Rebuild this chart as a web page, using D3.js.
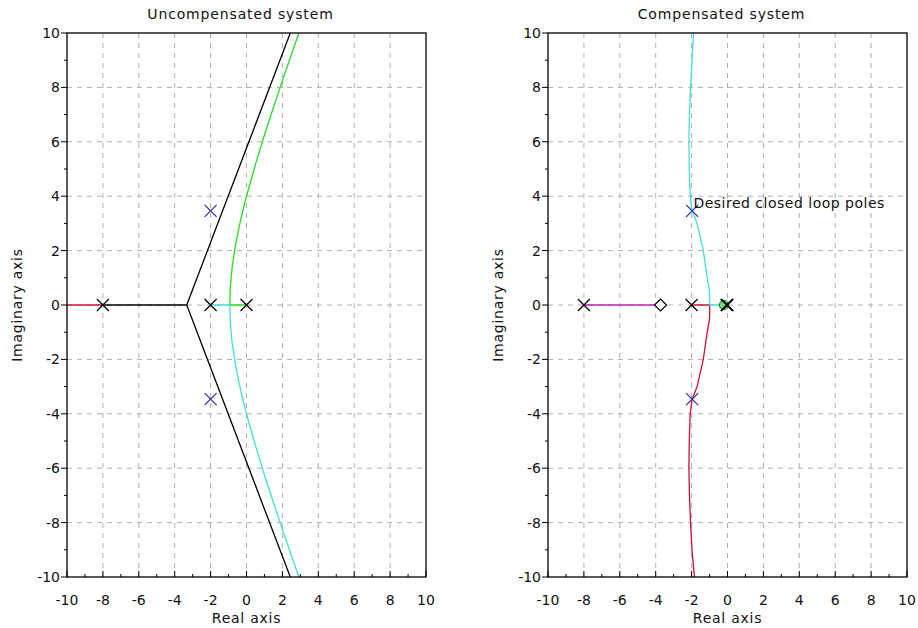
<!DOCTYPE html>
<html><head><meta charset="utf-8">
<script src="https://cdn.jsdelivr.net/npm/d3@7"></script>
<style>body{margin:0;background:#fff;} text{font-family:"DejaVu Sans",sans-serif;fill:#111;}</style>
</head><body>
<svg id="c" width="918" height="628"></svg>
<script>
// ---- data ----
const xTickValues = [-10,-8,-6,-4,-2,0,2,4,6,8,10];
const yTickValues = [-10,-8,-6,-4,-2,0,2,4,6,8,10];
const minorTickValues = [-9,-7,-5,-3,-1,1,3,5,7,9];
const titles = ["Uncompensated system", "Compensated system"];

// Uncompensated system
const uncPoles = [[-8,0],[-2,0],[0,0]];
const uncDesired = [[-2,3.46],[-2,-3.46]];
const uncRed = [[-10,0],[-8,0]];
const uncBlackReal = [[-8,0],[-3.33,0]];
const uncAsymptotes = [[2.44,10],[-3.33,0],[2.44,-10]];
const uncGreen = [[0,0],[-0.93,0],[-0.9,0.66],[-0.8,1.39],[-0.6,2.25],[-0.4,2.91],[-0.2,3.48],[0,4],[0.5,5.17],[1,6.25],[1.5,7.26],[2,8.25],[2.5,9.21],[2.92,10]];
const uncCyan = [[-2,0],[-0.93,0],[-0.9,-0.66],[-0.8,-1.39],[-0.6,-2.25],[-0.4,-2.91],[-0.2,-3.48],[0,-4],[0.5,-5.17],[1,-6.25],[1.5,-7.26],[2,-8.25],[2.5,-9.21],[2.92,-10]];

// Compensated system
const cmpPoles = [[-8,0],[-2,0],[0,0],[-0.05,0]];
const cmpZeroDiamond = [[-3.73,0]];
const cmpZeroCircle = [[-0.2,0]];
const cmpDesired = [[-1.97,3.46],[-1.97,-3.46]];
const cmpMagenta = [[-8,0],[-3.73,0]];
const cmpCyan = [[-0.2,0],[-0.99,0],[-1.0,0.5],[-1.13,1],[-1.35,2],[-1.69,3],[-1.97,3.46],[-2.08,4],[-2.13,5],[-2.15,6],[-2.12,7],[-2.06,8],[-1.98,9],[-1.89,10]];
const cmpRed = [[-2,0],[-0.99,0],[-1.0,-0.5],[-1.13,-1],[-1.35,-2],[-1.69,-3],[-1.97,-3.46],[-2.08,-4],[-2.13,-5],[-2.15,-6],[-2.12,-7],[-2.06,-8],[-1.98,-9],[-1.84,-10]];
const annotation = {text:"Desired closed loop poles", x:-1.9, y:3.95};

// ---- drawing ----
const svg = d3.select("#c");
const yTop = 33, yBottom = 577;
const panels = [
  {x0:67, x1:426, title:titles[0], id:0},
  {x0:548, x1:907, title:titles[1], id:1}
];
const C = {red:"#d0103a", cyan:"#40e0e0", green:"#22dd22", black:"#000", blue:"#2a2aa8", magenta:"#c020c0", grid:"#b0b0b0"};

panels.forEach(p => {
  const x = d3.scaleLinear().domain([-10,10]).range([p.x0,p.x1]);
  const y = d3.scaleLinear().domain([-10,10]).range([yBottom,yTop]);
  const g = svg.append("g");
  const clipId = "clip"+p.id;
  svg.append("clipPath").attr("id",clipId).append("rect")
    .attr("x",p.x0).attr("y",yTop).attr("width",p.x1-p.x0).attr("height",yBottom-yTop);

  // grid
  g.selectAll(".vg").data(xTickValues.filter(v=>v>-10&&v<10)).join("line")
    .attr("x1",d=>x(d)).attr("x2",d=>x(d)).attr("y1",yTop).attr("y2",yBottom)
    .attr("stroke",C.grid).attr("stroke-dasharray","5,5").attr("stroke-width",1);
  g.selectAll(".hg").data(yTickValues.filter(v=>v>-10&&v<10)).join("line")
    .attr("y1",d=>y(d)).attr("y2",d=>y(d)).attr("x1",p.x0).attr("x2",p.x1)
    .attr("stroke",C.grid).attr("stroke-dasharray","5,5").attr("stroke-width",1);

  const line = d3.line().x(d=>x(d[0])).y(d=>y(d[1]));
  const plot = g.append("g").attr("clip-path",`url(#${clipId})`);
  const path = (data,color) => plot.append("path").attr("d",line(data)).attr("fill","none").attr("stroke",color).attr("stroke-width",1.3);
  const cross = (data,color) => data.forEach(d => {
    const cx = x(d[0]), cy = y(d[1]), s = 6;
    plot.append("path").attr("d",`M${cx-s},${cy-s}L${cx+s},${cy+s}M${cx-s},${cy+s}L${cx+s},${cy-s}`)
      .attr("stroke",color).attr("stroke-width",1.2).attr("fill","none");
  });

  if (p.id===0) {
    path(uncBlackReal,C.black);
    path(uncAsymptotes,C.black);
    path(uncRed,C.red);
    path(uncGreen,C.green);
    path(uncCyan,C.cyan);
    cross(uncPoles,C.black);
    cross(uncDesired,C.blue);
  } else {
    path(cmpMagenta,C.magenta);
    path(cmpRed,C.red);
    path(cmpCyan,C.cyan);
    cmpZeroDiamond.forEach(d=>{
      const cx=x(d[0]), cy=y(d[1]), s=6;
      plot.append("path").attr("d",`M${cx-s},${cy}L${cx},${cy-s}L${cx+s},${cy}L${cx},${cy+s}Z`)
        .attr("fill","#fff").attr("stroke","#000").attr("stroke-width",1.2);
    });
    cmpZeroCircle.forEach(d=>{
      plot.append("circle").attr("cx",x(d[0])).attr("cy",y(d[1])).attr("r",4.5)
        .attr("fill","#7fd87f").attr("stroke","#109010").attr("stroke-width",1.2);
    });
    cross(cmpPoles,C.black);
    cross(cmpDesired,C.blue);
    g.append("text").attr("x",x(annotation.x)).attr("y",y(annotation.y)).attr("dy","0.75em")
      .attr("font-size",14).attr("letter-spacing",0.5).text(annotation.text);
  }

  // axes box
  g.append("rect").attr("x",p.x0).attr("y",yTop).attr("width",p.x1-p.x0).attr("height",yBottom-yTop)
    .attr("fill","none").attr("stroke","#000").attr("stroke-width",1.3);

  // ticks
  const bt = g.append("g");
  xTickValues.forEach(v=>{
    bt.append("line").attr("x1",x(v)).attr("x2",x(v)).attr("y1",yBottom).attr("y2",yBottom-6).attr("stroke","#000");
    bt.append("text").attr("x",x(v)).attr("y",yBottom+28).attr("text-anchor","middle").attr("font-size",14).text(v);
  });
  minorTickValues.forEach(v=>{
    bt.append("line").attr("x1",x(v)).attr("x2",x(v)).attr("y1",yBottom).attr("y2",yBottom-3).attr("stroke","#000");
    bt.append("line").attr("y1",y(v)).attr("y2",y(v)).attr("x1",p.x0).attr("x2",p.x0-3).attr("stroke","#000");
  });
  yTickValues.forEach(v=>{
    bt.append("line").attr("y1",y(v)).attr("y2",y(v)).attr("x1",p.x0).attr("x2",p.x0-6).attr("stroke","#000");
    bt.append("text").attr("x",p.x0-7).attr("y",y(v)).attr("dy","0.36em").attr("text-anchor","end").attr("font-size",14).text(v);
  });

  // labels
  g.append("text").attr("x",(p.x0+p.x1)/2-6).attr("y",19).attr("text-anchor","middle").attr("font-size",14).attr("letter-spacing",0.85).text(p.title);
  g.append("text").attr("x",(p.x0+p.x1)/2).attr("y",623).attr("text-anchor","middle").attr("font-size",14).attr("letter-spacing",0.75).text("Real axis");
  g.append("text").attr("transform",`translate(${p.x0-45.5},${(yTop+yBottom)/2}) rotate(-90)`).attr("text-anchor","middle").attr("font-size",14).attr("letter-spacing",0.75).text("Imaginary axis");
});
</script>
</body></html>
